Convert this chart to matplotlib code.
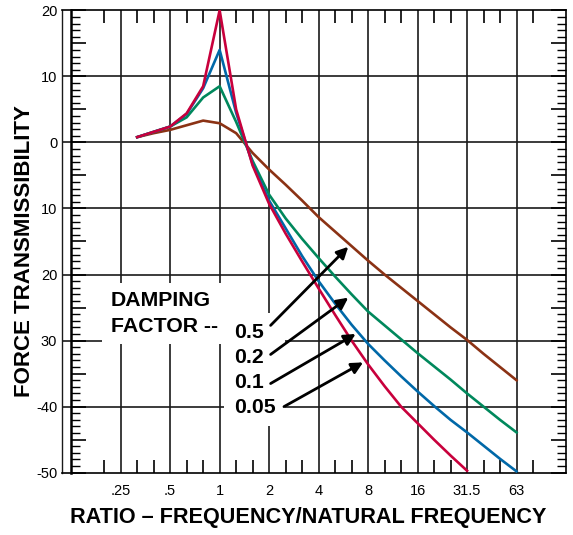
import numpy as np
import matplotlib
matplotlib.use('Agg')
import matplotlib.pyplot as plt
from matplotlib.ticker import FixedLocator, FixedFormatter, NullFormatter

plt.rcParams['font.family'] = 'sans-serif'
plt.rcParams['font.sans-serif'] = ['Liberation Sans', 'DejaVu Sans']

# frequency ratio in 1/3 octave steps: r = 2**(k/3)
steps = list(range(-5, 19))
# force transmissibility (dB), one list per damping factor
damp_05 = [0.8, 1.4, 1.9, 2.6, 3.3, 2.9, 1.4, -1.6, -4.1, -6.4, -8.8, -11.3,
           -13.5, -15.7, -17.9, -20.0, -22.0, -24.0, -26.0, -28.0, -29.9, -32.0, -34.0, -36.0]
damp_02 = [0.8, 1.6, 2.4, 3.8, 6.8, 8.5, 3.1, -2.8, -7.9, -11.5, -14.6, -17.5,
           -20.3, -23.0, -25.6, -27.7, -29.8, -31.9, -33.9, -35.9, -38.0, -40.0, -42.0, -43.9]
damp_01 = [0.8, 1.6, 2.4, 4.3, 8.2, 14.0, 4.5, -3.3, -8.8, -13.0, -17.2, -21.0,
           -24.4, -27.6, -30.5, -33.0, -35.4, -37.7, -39.9, -42.0, -43.9, -45.9, -47.9, -49.8]
damp_005 = [0.8, 1.6, 2.4, 4.4, 8.5, 20.0, 5.0, -3.5, -9.3, -13.8, -18.0, -22.1,
            -26.1, -30.0, -33.6, -36.9, -40.0, -42.5, -45.0, -47.4, -49.7]

xtick_vals = [0.25, 0.5, 1, 2, 4, 8, 16, 32, 64]
xtick_labels = ['.25', '.5', '1', '2', '4', '8', '16', '31.5', '63']
ytick_vals = [20, 10, 0, -10, -20, -30, -40, -50]
ytick_labels = ['20', '10', '0', '10', '20', '30', '-40', '-50']

c_05, c_02, c_01, c_005 = '#8B3214', '#00885C', '#0068A8', '#C8003C'

fig = plt.figure(figsize=(5.73, 5.35), dpi=100)
ax = fig.add_axes([62/573, 1-472.7/535, 504/573, 462.4/535])
ax.set_xscale('log', base=2)
xmin = 2**-3.186
ax.set_xlim(xmin, 128)
ax.set_ylim(-50, 20)

# grid
for v in xtick_vals:
    ax.axvline(v, color='#1a1a1a', lw=1.2, zorder=1)
for h in [10, 0, -10, -20, -30, -40]:
    ax.axhline(h, color='#1a1a1a', lw=1.2, zorder=1)
ax.axvline(xmin, color='#1a1a1a', lw=1.0, zorder=1, clip_on=False)

for s in ['top', 'right', 'bottom']:
    ax.spines[s].set_linewidth(1.2)
ax.spines['left'].set_position(('data', 0.125))
ax.spines['left'].set_linewidth(1.8)

# curves
def rr(n):
    return [2 ** (k / 3) for k in steps[:n]]

ax.plot(rr(len(damp_05)), damp_05, color=c_05, lw=1.9, zorder=4)
ax.plot(rr(len(damp_02)), damp_02, color=c_02, lw=1.9, zorder=4)
ax.plot(rr(len(damp_01)), damp_01, color=c_01, lw=1.9, zorder=4)
ax.plot(rr(len(damp_005)), damp_005, color=c_005, lw=1.9, zorder=4)

# ticks
ax.xaxis.set_major_locator(FixedLocator(xtick_vals))
ax.xaxis.set_major_formatter(FixedFormatter(xtick_labels))
ax.xaxis.set_minor_locator(FixedLocator([2 ** (k / 3) for k in range(-7, 20) if k % 3 != 0]))
ax.xaxis.set_minor_formatter(NullFormatter())
ax.tick_params(axis='x', which='major', length=0, pad=8, labelsize=10.5)
ax.tick_params(axis='x', which='minor', direction='in', length=9.4, width=1.2, top=True, bottom=True)

yt = list(range(-50, 21, 5))
ax.yaxis.set_major_locator(FixedLocator(yt))
ax.yaxis.set_major_formatter(FixedFormatter(
    [ytick_labels[ytick_vals.index(v)] if v in ytick_vals else '' for v in yt]))
ax.yaxis.set_minor_locator(FixedLocator(range(-50, 21)))
ax.tick_params(axis='y', which='major', direction='in', length=11, width=1.2,
               left=True, right=True, pad=10, labelsize=10.5)
ax.tick_params(axis='y', which='minor', direction='in', length=6.5, width=1.0,
               left=True, right=True)

# annotation
ax.text(2**-2.202, -25.9, 'DAMPING\nFACTOR --', ha='left', va='center', fontsize=15.3,
        fontweight='bold', linespacing=1.45, zorder=3,
        bbox=dict(facecolor='white', edgecolor='none', pad=6))
ax.text(2**0.289, -34.4, '0.5\n0.2\n0.1\n0.05', ha='left', va='center', fontsize=15.3,
        fontweight='bold', linespacing=1.4, zorder=3,
        bbox=dict(facecolor='white', edgecolor='none', pad=7))

arrows = [((1.03, -27.7), (2.60, -15.8)),
          ((1.03, -32.1), (2.60, -23.5)),
          ((1.03, -36.5), (2.75, -29.0)),
          ((1.30, -40.0), (2.90, -33.3))]
for (tx, ty), (hx, hy) in arrows:
    ax.annotate('', xy=(2**hx, hy), xytext=(2**tx, ty), zorder=6,
                arrowprops=dict(arrowstyle='-|>', color='black', lw=2,
                                mutation_scale=17, shrinkA=0, shrinkB=0))

fig.text(25/573, 1-251/535, 'FORCE TRANSMISSIBILITY', rotation=90, ha='center', va='center',
         fontsize=16, fontweight='bold')
fig.text(308/573, 1-518/535, 'RATIO \u2013 FREQUENCY/NATURAL FREQUENCY', ha='center', va='center',
         fontsize=15.6, fontweight='bold')

fig.savefig('out.png', dpi=100)
